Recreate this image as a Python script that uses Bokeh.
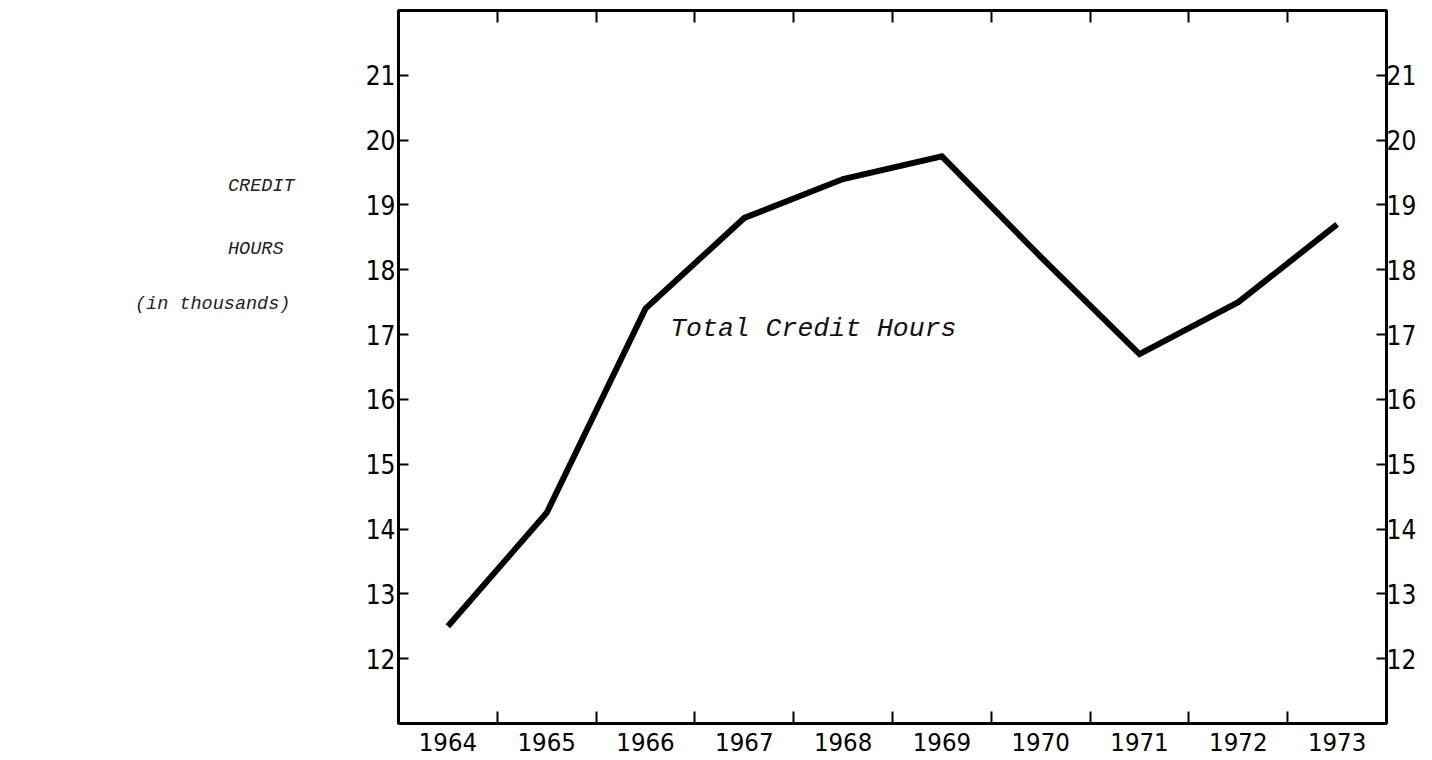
from bokeh.plotting import figure
from bokeh.models import Range1d, FixedTicker, LinearAxis, Label, Div
from bokeh.layouts import row
from bokeh.embed import file_html
from bokeh.resources import INLINE

# Data
years = [1964, 1965, 1966, 1967, 1968, 1969, 1970, 1971, 1972, 1973]
credit_hours = [12.5, 14.25, 17.4, 18.8, 19.4, 19.75, 18.2, 16.7, 17.5, 18.7]  # thousands
y_ticks = [12, 13, 14, 15, 16, 17, 18, 19, 20, 21]
year_labels = {y: str(y) for y in years}
blank_labels = {y: "" for y in years}
boundaries = [y + 0.5 for y in years[:-1]]
side_text = ["CREDIT", "HOURS", "(in thousands)"]

TICK_FONT = "DejaVu Sans Condensed"
ITAL_FONT = "Liberation Mono"
LEFT_BORDER = 60
DIV_W = 398 - LEFT_BORDER

p = figure(frame_width=988, frame_height=713,
           x_range=Range1d(years[0] - 0.5, years[-1] + 0.5),
           y_range=Range1d(11, 22),
           output_backend="svg", toolbar_location=None,
           x_axis_location=None, y_axis_location=None,
           min_border_left=LEFT_BORDER, min_border_top=10,
           min_border_right=0, min_border_bottom=36)
p.background_fill_color = "white"
p.border_fill_color = "white"
p.grid.visible = False
p.outline_line_color = "black"
p.outline_line_width = 3

xticker = FixedTicker(ticks=years, minor_ticks=boundaries)
yticker = FixedTicker(ticks=y_ticks, minor_ticks=[])


def style_axis(ax, size):
    ax.axis_line_color = "black"
    ax.axis_line_width = 3
    ax.major_label_text_font = TICK_FONT
    ax.major_label_text_font_size = size
    ax.major_label_text_color = "black"
    ax.major_tick_line_color = "black"
    ax.major_tick_line_width = 2
    ax.minor_tick_line_color = "black"
    ax.minor_tick_line_width = 2


bottom = LinearAxis(ticker=xticker, major_label_overrides=year_labels)
style_axis(bottom, "25.5px")
bottom.major_tick_in = 0
bottom.major_tick_out = 0
bottom.minor_tick_in = 12
bottom.minor_tick_out = 0
bottom.major_label_standoff = 9
p.add_layout(bottom, "below")

top = LinearAxis(ticker=xticker, major_label_overrides=blank_labels)
style_axis(top, "25px")
top.major_tick_in = 0
top.major_tick_out = 0
top.minor_tick_in = 12
top.minor_tick_out = 0
top.major_label_standoff = 0
p.add_layout(top, "above")

left = LinearAxis(ticker=yticker)
style_axis(left, "26px")
left.major_tick_in = 10
left.major_tick_out = 0
left.minor_tick_in = 0
left.minor_tick_out = 0
left.major_label_standoff = 3
p.add_layout(left, "left")

right = LinearAxis(ticker=yticker)
style_axis(right, "26px")
right.major_tick_in = 10
right.major_tick_out = 0
right.minor_tick_in = 0
right.minor_tick_out = 0
right.major_label_standoff = 0
p.add_layout(right, "right")

p.line(years, credit_hours, line_color="black", line_width=6, line_join="miter")

p.add_layout(Label(x=1966.25, y=17.09, text="Total Credit Hours",
                   text_font=ITAL_FONT, text_font_style="italic",
                   text_font_size="26.5px", text_color="#111111",
                   text_baseline="alphabetic", text_align="left"))

# Side caption (left of the plot)
side_pos = [(228, 176), (228, 239), (135, 294)]
spans = "".join(
    f'<div style="position:absolute; left:{x}px; top:{y}px; white-space:pre; '
    f'font-family:\'Liberation Mono\'; font-style:italic; font-size:18.5px; '
    f'line-height:22px; color:#222;">{t}</div>'
    for t, (x, y) in zip(side_text, side_pos))
div = Div(text=f'<div style="position:relative; width:{DIV_W}px; height:740px;">{spans}</div>',
          width=DIV_W, height=740, margin=0)

layout = row(div, p)
open("out.html", "w").write(file_html(layout, INLINE))
